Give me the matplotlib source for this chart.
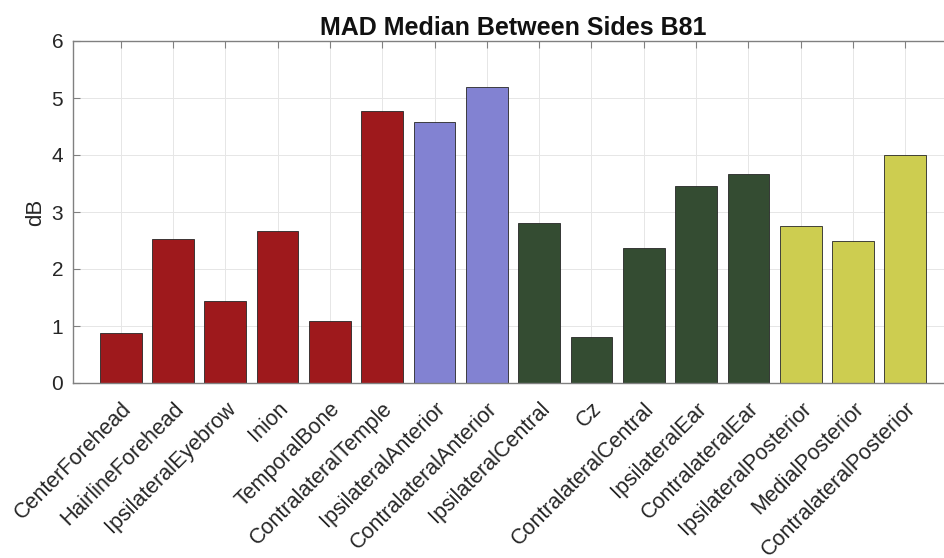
import matplotlib
matplotlib.use("Agg")
import matplotlib.pyplot as plt
import numpy as np

categories = ["CenterForehead", "HairlineForehead", "IpsilateralEyebrow", "Inion",
              "TemporalBone", "ContralateralTemple", "IpsilateralAnterior",
              "ContralateralAnterior", "IpsilateralCentral", "Cz",
              "ContralateralCentral", "IpsilateralEar", "ContralateralEar",
              "IpsilateralPosterior", "MedialPosterior", "ContralateralPosterior"]
values = [0.87, 2.53, 1.43, 2.67, 1.09, 4.77, 4.58, 5.19,
          2.81, 0.81, 2.37, 3.46, 3.67, 2.75, 2.49, 4.00]
groups = ["front"] * 6 + ["anterior"] * 2 + ["central"] * 5 + ["posterior"] * 3
group_colors = {"front": "#9e191c", "anterior": "#8282d2",
                "central": "#344c32", "posterior": "#cdcd50"}
yticks = [0, 1, 2, 3, 4, 5, 6]

plt.rcParams["font.family"] = ["Liberation Sans", "DejaVu Sans"]

fig = plt.figure(figsize=(9.44, 5.58), dpi=100)
ax = fig.add_axes([73 / 944, 1 - 383 / 558, 880 / 944, 342 / 558])

x = np.arange(1, len(categories) + 1)
colors = [group_colors[g] for g in groups]
ax.bar(x, values, width=0.8, color=colors, edgecolor="#262626", linewidth=0.6, zorder=2)

ax.set_xlim(0.09, 16.91)
ax.set_ylim(0, 6)
ax.set_yticks(yticks)
ax.set_xticks(x)
ax.set_xticklabels(categories, rotation=45, ha="right", va="top",
                   rotation_mode="anchor", fontsize=15.5, color="#262626")
ax.tick_params(axis="y", labelsize=15, colors="#262626", pad=7)
ax.tick_params(direction="in", length=5, top=True, right=True, width=0.8,
               color="#808080")
ax.tick_params(axis="x", pad=11)
ax.grid(True, color="#e6e6e6", linewidth=0.7, zorder=0)
ax.set_axisbelow(True)
for s in ax.spines.values():
    s.set_color("#808080")
    s.set_linewidth(1.0)

ax.set_ylabel("dB", fontsize=16, color="#262626", labelpad=4)
ax.set_title("MAD Median Between Sides B81", fontsize=18, fontweight="bold",
             color="#111111", pad=4)

fig.savefig("out.png", dpi=100)
